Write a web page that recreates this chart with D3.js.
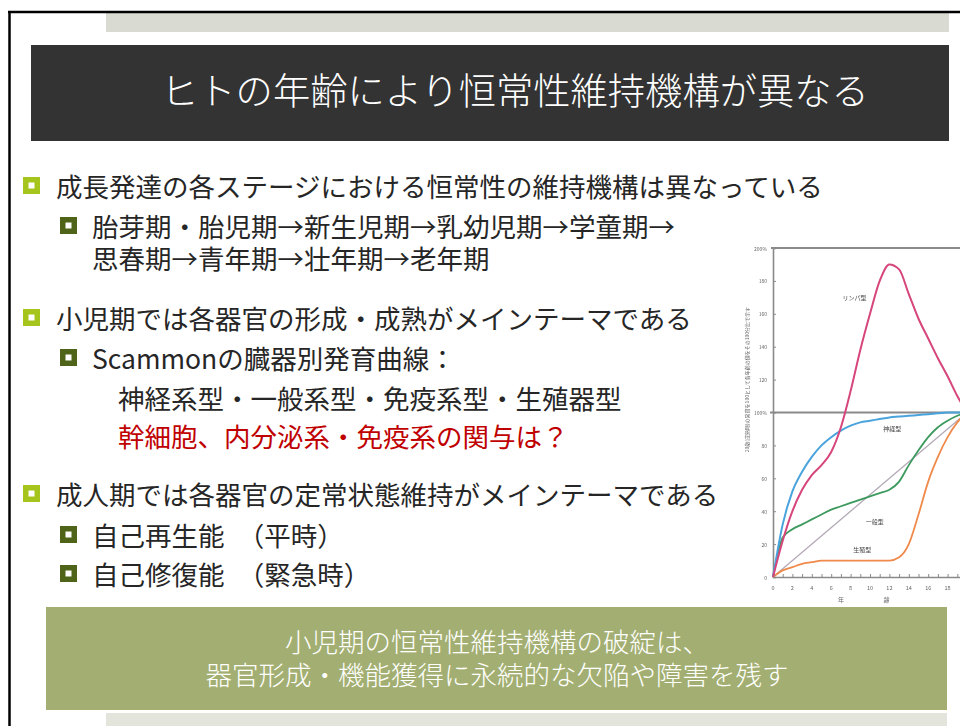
<!DOCTYPE html>
<html>
<head>
<meta charset="utf-8">
<script src="https://cdn.jsdelivr.net/npm/d3@7"></script>
<style>
  html, body { margin: 0; padding: 0; background: #fff; }
  svg { display: block; }
</style>
</head>
<body>
<svg id="slide" width="960" height="726"></svg>
<script>
// ---- growth curve data (percent of size at age 20) ----
const ages = [0, 1, 2, 3, 4, 5, 6, 7, 8, 9, 10, 11, 12, 13, 14, 15, 16, 17, 18, 19, 20];
const lymphoid     = [0, 22, 40, 53, 62, 68, 76, 91, 113, 138, 160, 180, 190, 187, 172, 157, 145, 133, 122, 110, 100];
const neural       = [0, 32, 52, 64, 73, 80, 85, 89, 92, 94, 95, 96, 97, 97.5, 98, 98.5, 99, 99.5, 100, 100, 100];
const general      = [0, 24, 29, 32, 35, 38, 41, 43, 45, 47, 49, 51, 53, 58, 68, 77, 85, 91, 95, 98, 100];
const reproductive = [0, 4, 6, 8, 9, 10, 10, 10, 10, 10, 10, 10, 10, 12, 20, 38, 58, 73, 85, 94, 100];
const referenceAges = [0, 20];
const referenceLine = [0, 100];

const seriesNames  = ["リンパ型", "神経型", "一般型", "生殖型"];
const yTickValues  = [0, 20, 40, 60, 80, 100, 120, 140, 160, 180, 200];
const yTickLabels  = ["0", "20", "40", "60", "80", "100%", "120", "140", "160", "180", "200%"];
const xTickValues  = [0, 2, 4, 6, 8, 10, 12, 14, 16, 18];
const xAxisTitle   = ["年", "齢"];
const yAxisTitle   = "20歳(成熟時)の発育を100として各年齢の値をその100分比で示す";

// ---- slide text ----
const titleText = "ヒトの年齢により恒常性維持機構が異なる";
const bodyLines = [
  { level: 1, text: "成長発達の各ステージにおける恒常性の維持機構は異なっている", y: 185 },
  { level: 2, text: "胎芽期・胎児期→新生児期→乳幼児期→学童期→", y: 225 },
  { level: 0, text: "思春期→青年期→壮年期→老年期", y: 257, x: 92 },
  { level: 1, text: "小児期では各器官の形成・成熟がメインテーマである", y: 317 },
  { level: 2, text: "Scammonの臓器別発育曲線：", y: 357 },
  { level: 0, text: "神経系型・一般系型・免疫系型・生殖器型", y: 397, x: 118 },
  { level: 0, text: "幹細胞、内分泌系・免疫系の関与は？", y: 435, x: 118, red: true },
  { level: 1, text: "成人期では各器官の定常状態維持がメインテーマである", y: 493 },
  { level: 2, text: "自己再生能　（平時）", y: 534 },
  { level: 2, text: "自己修復能　（緊急時）", y: 573 }
];
const boxLines = ["小児期の恒常性維持機構の破綻は、", "器官形成・機能獲得に永続的な欠陥や障害を残す"];

const FONT = "'Noto Sans CJK JP', 'Noto Sans', sans-serif";
const svg = d3.select("#slide");

// ---- slide frame ----
svg.append("rect").attr("x", 0).attr("y", 0).attr("width", 960).attr("height", 726).attr("fill", "#fff");
svg.append("rect").attr("x", 106).attr("y", 13).attr("width", 843).attr("height", 19).attr("fill", "#d9dbd2");
svg.append("rect").attr("x", 106).attr("y", 713).attr("width", 841).attr("height", 13).attr("fill", "#e3e4dc");
svg.append("line").attr("x1", 8).attr("x2", 960).attr("y1", 12).attr("y2", 12)
  .attr("stroke", "#000").attr("stroke-width", 2.5);
svg.append("line").attr("x1", 9.5).attr("x2", 9.5).attr("y1", 11).attr("y2", 726)
  .attr("stroke", "#000").attr("stroke-width", 2.5);

// title bar
svg.append("rect").attr("x", 31).attr("y", 45).attr("width", 918).attr("height", 96).attr("fill", "#333333");
svg.append("text").attr("x", 161).attr("y", 89)
  .attr("dominant-baseline", "central")
  .attr("font-family", FONT).attr("font-size", 37.3).attr("font-weight", 300)
  .attr("fill", "#fff").text(titleText);

// ---- bullet list ----
const bulletColor = { 1: "#a5c51d", 2: "#4f6319" };
const bulletX = { 1: 23, 2: 60 };
const textX = { 1: 56, 2: 92 };
const list = svg.append("g");
bodyLines.forEach(d => {
  if (d.level > 0) {
    const bx = bulletX[d.level], s = 17;
    list.append("rect").attr("x", bx).attr("y", d.y - s / 2 + 0.5).attr("width", s).attr("height", s)
      .attr("fill", bulletColor[d.level]);
    list.append("rect").attr("x", bx + 5.5).attr("y", d.y - s / 2 + 6).attr("width", 6).attr("height", 6)
      .attr("fill", "#fff");
  }
  list.append("text")
    .attr("x", d.level > 0 ? textX[d.level] : d.x)
    .attr("y", d.y)
    .attr("dominant-baseline", "central")
    .attr("font-family", FONT).attr("font-size", 26.5)
    .attr("fill", d.red ? "#c00000" : "#262626")
    .text(d.text);
});

// ---- conclusion box ----
svg.append("rect").attr("x", 46).attr("y", 607).attr("width", 901).attr("height", 103).attr("fill", "#a3af72");
boxLines.forEach((t, i) => {
  svg.append("text").attr("x", 497).attr("y", 640 + i * 33)
    .attr("text-anchor", "middle").attr("dominant-baseline", "central")
    .attr("font-family", FONT).attr("font-size", 26.5).attr("font-weight", 300)
    .attr("fill", "#fff").text(t);
});

// ---- Scammon growth chart ----
const defs = svg.append("defs");
defs.append("clipPath").attr("id", "chartClip")
  .append("rect").attr("x", 730).attr("y", 230).attr("width", 230).attr("height", 378);
const soft = defs.append("filter").attr("id", "soft");
soft.append("feGaussianBlur").attr("stdDeviation", 0.45);
const softText = defs.append("filter").attr("id", "softText");
softText.append("feGaussianBlur").attr("stdDeviation", 0.35);

const x = d3.scaleLinear().domain([0, 20]).range([773, 967]);
const y = d3.scaleLinear().domain([0, 200]).range([577, 248]);

const chart = svg.append("g").attr("clip-path", "url(#chartClip)");
const plot = chart.append("g").attr("filter", "url(#soft)");

// frame lines: top (200%), reference 100%, left axis
plot.append("line").attr("x1", x(0) - 2).attr("x2", 960).attr("y1", y(200)).attr("y2", y(200))
  .attr("stroke", "#8a8a8a").attr("stroke-width", 2);
plot.append("line").attr("x1", x(0) - 3).attr("x2", 960).attr("y1", y(100)).attr("y2", y(100))
  .attr("stroke", "#8a8a8a").attr("stroke-width", 2);

// y axis
const yAxis = d3.axisRight(y).tickValues(yTickValues).tickSize(3).tickFormat(() => "");
const yg = plot.append("g").attr("transform", `translate(${x(0)},0)`).call(yAxis);
yg.select(".domain").attr("stroke", "#8a8a8a").attr("stroke-width", 1.6);
yg.selectAll(".tick line").attr("stroke", "#8a8a8a");

// x axis
const xAxis = d3.axisTop(x).ticks(20).tickSize(3).tickFormat(() => "");
const xg = plot.append("g").attr("transform", `translate(0,${y(0)})`).call(xAxis);
xg.select(".domain").attr("stroke", "#8a8a8a").attr("stroke-width", 1.4);
xg.selectAll(".tick line").attr("stroke", "#8a8a8a");

const labels = chart.append("g").attr("filter", "url(#softText)")
  .attr("font-family", FONT).attr("fill", "#666");
labels.selectAll("text.yl").data(yTickValues).join("text")
  .attr("class", "yl")
  .attr("x", x(0) - 6).attr("y", d => y(d))
  .attr("text-anchor", "end").attr("dominant-baseline", "central")
  .attr("font-size", 5).text((d, i) => yTickLabels[i]);
labels.selectAll("text.xl").data(xTickValues).join("text")
  .attr("class", "xl")
  .attr("x", d => x(d)).attr("y", y(0) + 11)
  .attr("text-anchor", "middle").attr("dominant-baseline", "central")
  .attr("font-size", 5.5).text(d => d);
labels.selectAll("text.xt").data(xAxisTitle).join("text")
  .attr("class", "xt")
  .attr("x", (d, i) => x(i === 0 ? 7 : 11.7)).attr("y", y(0) + 22)
  .attr("text-anchor", "middle").attr("dominant-baseline", "central")
  .attr("font-size", 6).text(d => d);
labels.append("text")
  .attr("transform", `translate(${x(0) - 27},${y(120)}) rotate(-90)`)
  .attr("text-anchor", "middle").attr("dominant-baseline", "central")
  .attr("font-size", 5).text(yAxisTitle);

// curves
const line = d3.line().x(d => x(d[0])).y(d => y(d[1])).curve(d3.curveMonotoneX);
const curves = [
  { values: referenceLine, ages: referenceAges, color: "#b3a9b6", width: 1.3 },
  { values: reproductive, ages: ages, color: "#f08a4b", width: 1.8 },
  { values: general, ages: ages, color: "#3d9a5e", width: 1.8 },
  { values: neural, ages: ages, color: "#4aa3dc", width: 2 },
  { values: lymphoid, ages: ages, color: "#d6457c", width: 2 }
];
plot.selectAll("path.curve").data(curves).join("path")
  .attr("class", "curve")
  .attr("d", c => line(c.ages.map((a, i) => [a, c.values[i]])))
  .attr("fill", "none")
  .attr("stroke", c => c.color)
  .attr("stroke-width", c => c.width)
  .attr("stroke-linejoin", "round");

// curve names
const namePos = [[8.4, 170], [12.3, 90], [10.5, 34], [9.2, 17]];
labels.selectAll("text.nm").data(seriesNames).join("text")
  .attr("class", "nm")
  .attr("x", (d, i) => x(namePos[i][0])).attr("y", (d, i) => y(namePos[i][1]))
  .attr("text-anchor", "middle").attr("dominant-baseline", "central")
  .attr("font-size", 6).attr("fill", "#444").text(d => d);
</script>
</body>
</html>
